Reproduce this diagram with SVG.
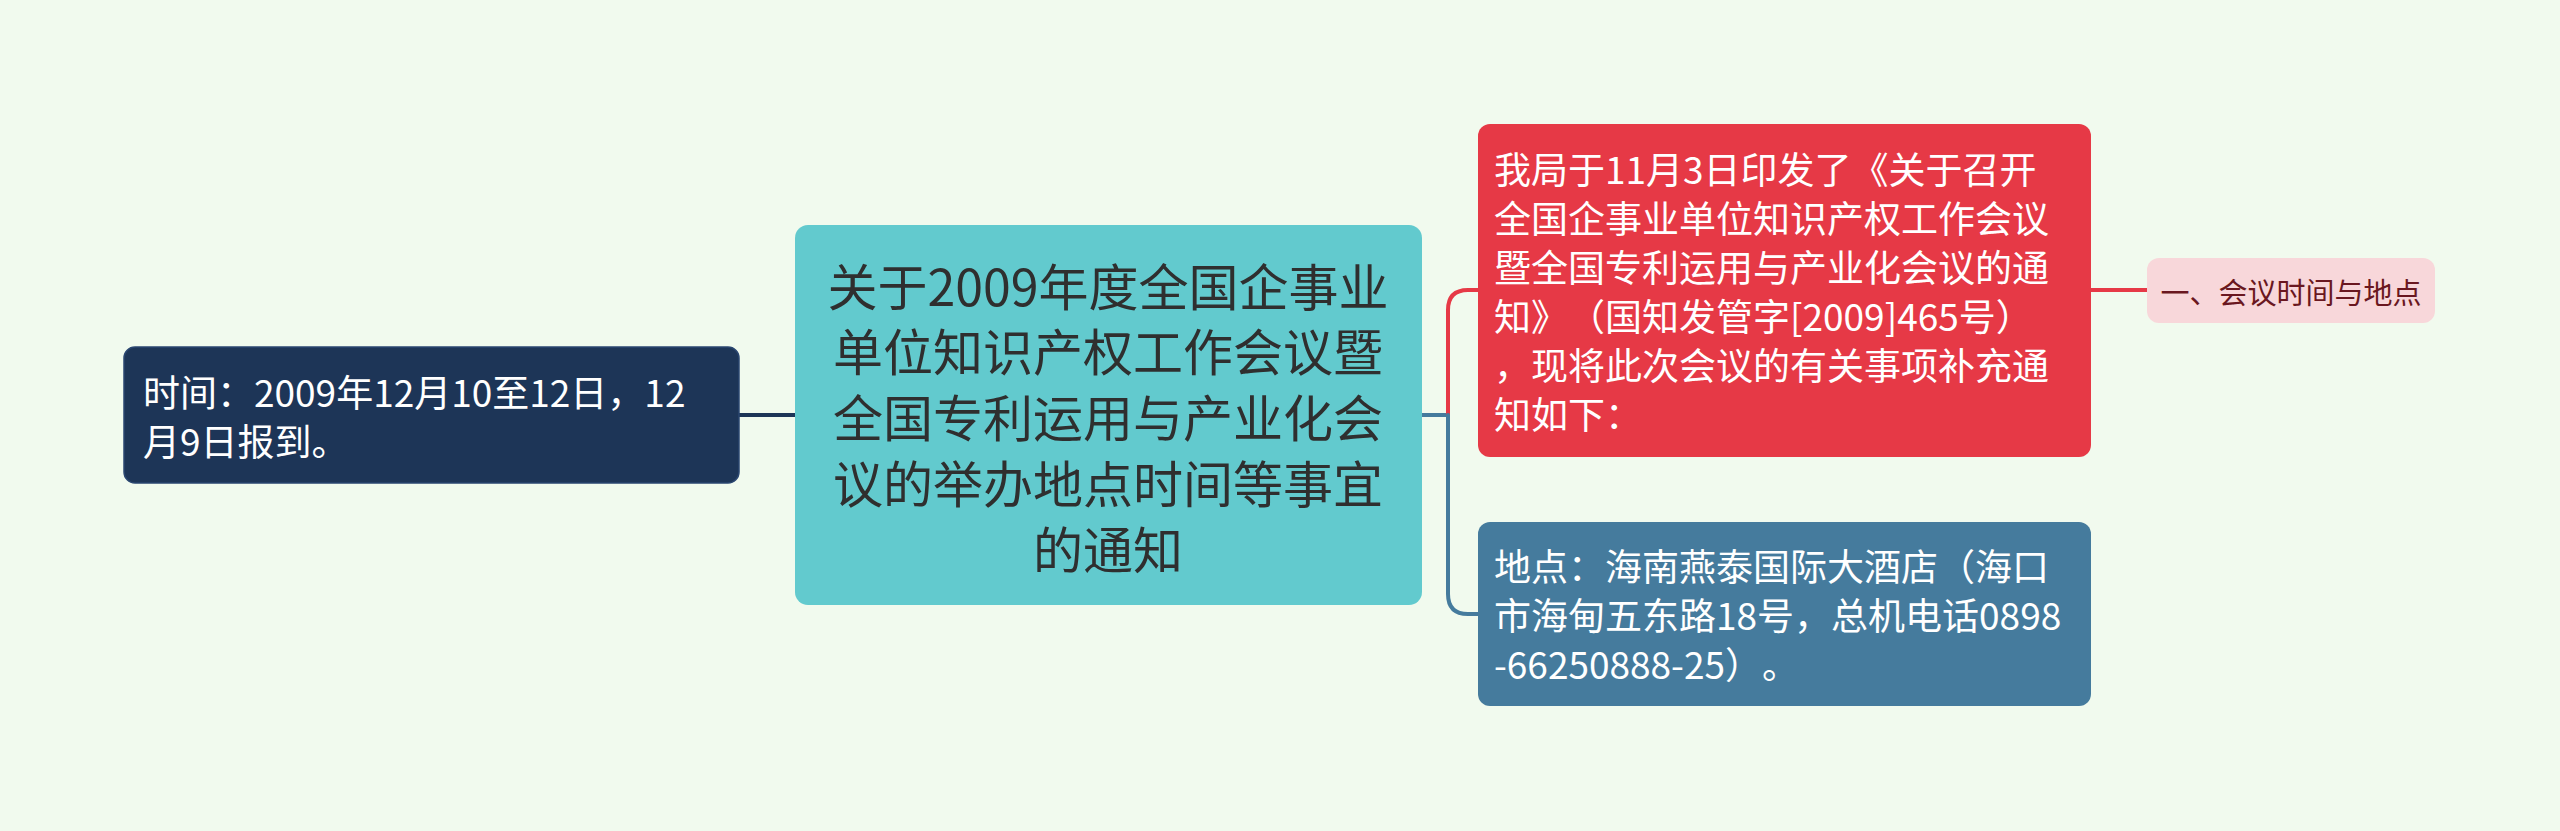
<svg xmlns="http://www.w3.org/2000/svg" width="2560" height="831" viewBox="0 0 2560 831">
<style>
.t{font-family:"Noto Sans CJK SC","Noto Sans",sans-serif;dominant-baseline:central;text-spacing-trim:space-all}
.c{font-size:50px;fill:#2f2f2f;text-anchor:middle}
.w{font-size:37px;fill:#ffffff}
.p{font-size:29px;fill:#6a1720;text-anchor:middle}
.ln{fill:none;stroke-width:4;stroke-linecap:round}
</style>
<rect width="2560" height="831" fill="#f1faee"/>
<g id="connectors">
<path class="ln" stroke="#1d3557" d="M739 415 H795"/>
<path class="ln" stroke="#457b9d" d="M1422 415 H1448"/>
<path class="ln" stroke="#e63946" d="M1448 415 V310 Q1448 290 1468 290 H1478"/>
<path class="ln" stroke="#457b9d" d="M1448 415 V594 Q1448 614 1468 614 H1478"/>
<path class="ln" stroke="#e63946" d="M2091 290 H2147"/>
</g>
<g id="center">
<rect x="795" y="225" width="627" height="380" rx="13" fill="#62cace"/>
<text class="t c" x="1108" y="284">关于2009年度全国企事业</text>
<text class="t c" x="1108" y="349">单位知识产权工作会议暨</text>
<text class="t c" x="1108" y="415">全国专利运用与产业化会</text>
<text class="t c" x="1108" y="481">议的举办地点时间等事宜</text>
<text class="t c" x="1108" y="547">的通知</text>
</g>
<g id="left">
<rect x="124" y="347" width="615" height="136" rx="11" fill="#1d3557" stroke="#2a4670" stroke-width="1.5"/>
<text class="t w" x="143" y="391">时间：2009年12月10至12日，12</text>
<text class="t w" x="143" y="440">月9日报到。</text>
</g>
<g id="notice">
<rect x="1478" y="124" width="613" height="333" rx="12" fill="#e63946"/>
<text class="t w" x="1494" y="168">我局于11月3日印发了《关于召开</text>
<text class="t w" x="1494" y="217">全国企事业单位知识产权工作会议</text>
<text class="t w" x="1494" y="266">暨全国专利运用与产业化会议的通</text>
<text class="t w" x="1494" y="315">知》（国知发管字[2009]465号）</text>
<text class="t w" x="1494" y="364">，现将此次会议的有关事项补充通</text>
<text class="t w" x="1494" y="413">知如下：</text>
</g>
<g id="place">
<rect x="1478" y="522" width="613" height="184" rx="12" fill="#457b9d"/>
<text class="t w" x="1494" y="565">地点：海南燕泰国际大酒店（海口</text>
<text class="t w" x="1494" y="614">市海甸五东路18号，总机电话0898</text>
<text class="t w" x="1494" y="663">-66250888-25）。</text>
</g>
<g id="section">
<rect x="2147" y="258" width="288" height="65" rx="12" fill="#f8d7da"/>
<text class="t p" x="2291" y="291">一、会议时间与地点</text>
</g>
</svg>
